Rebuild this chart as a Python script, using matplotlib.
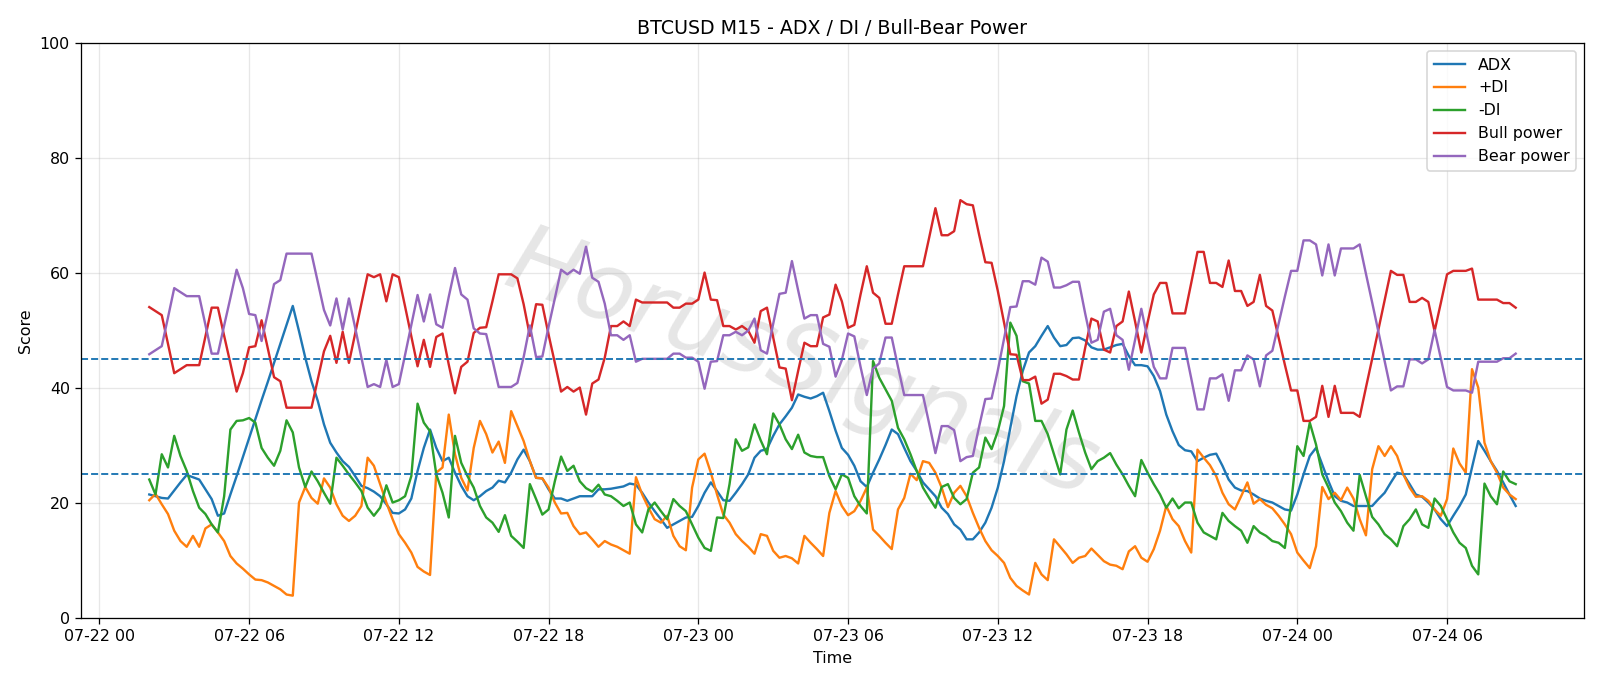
import matplotlib
matplotlib.use("Agg")
import matplotlib.pyplot as plt
import matplotlib.dates as mdates
import pandas as pd

# 15-minute bars, 07-22 02:00 -> 07-24 08:45
times = pd.date_range("2025-07-22 02:00", periods=220, freq="15min")

adx = [
    21.5, 21.2, 20.9, 20.8, 22.2, 23.6, 24.9, 24.5, 24.1, 22.4, 20.7, 17.8, 18.2, 21.5, 24.7, 28.0, 31.3, 34.6, 37.9,
    41.1, 44.4, 47.7, 51.0, 54.3, 49.9, 45.3, 41.2, 37.8, 33.7, 30.5, 28.8, 27.3, 26.3, 24.7, 23.0, 22.6, 22.0,
    21.2, 19.8, 18.3, 18.2, 18.9, 20.8, 25.6, 29.6, 32.8, 29.6, 27.3, 27.9, 25.3, 23.0, 21.2, 20.5, 21.2, 22.1,
    22.7, 23.9, 23.6, 25.3, 27.6, 29.3, 27.3, 24.4, 24.3, 22.4, 20.8, 20.8, 20.4, 20.8, 21.2, 21.2, 21.2, 22.4, 22.4,
    22.5, 22.7, 22.9, 23.4, 23.2, 21.8, 20.1, 18.6, 17.2, 15.7, 16.3, 16.9, 17.5, 17.6, 19.5, 21.8, 23.6, 22.1,
    20.5, 20.4, 21.8, 23.3, 25.0, 27.9, 29.1, 29.4, 31.7, 33.7, 35.1, 36.6, 38.9, 38.5, 38.2, 38.6, 39.2, 36.0, 32.6,
    29.6, 28.4, 26.5, 23.8, 22.8, 25.3, 27.6, 30.1, 32.8, 32.0, 29.6, 27.3, 25.6, 23.6, 22.4, 21.2, 19.2, 18.1,
    16.3, 15.4, 13.7, 13.7, 14.9, 16.6, 19.2, 22.7, 27.3, 33.1, 38.6, 43.0, 46.2, 47.3, 49.1, 50.8, 48.8, 47.3,
    47.5, 48.7, 48.8, 48.3, 47.1, 46.7, 46.7, 47.1, 47.5, 47.7, 45.6, 44.0, 44.0, 43.8, 42.1, 39.5, 35.4, 32.5,
    30.1, 29.2, 29.0, 27.3, 27.9, 28.4, 28.6, 26.5, 24.1, 22.7, 22.2, 22.1, 21.5, 20.8, 20.4, 20.1, 19.5, 18.9, 18.7, 21.5,
    25.0, 28.2, 29.6, 26.7, 23.8, 21.2, 20.4, 20.1, 19.5, 19.5, 19.5, 19.5, 20.7, 21.8, 23.6, 25.3, 25.0, 23.3,
    21.5, 21.1, 20.1, 18.9, 17.2, 16.0, 17.8, 19.5, 21.5, 26.2, 30.8, 29.1, 27.3, 25.6, 23.6, 21.5, 19.5,
]

plus_di = [
    20.5, 21.6, 19.8, 18.1, 15.2, 13.4, 12.4, 14.3, 12.4, 15.6, 16.3, 14.9, 13.4, 10.8, 9.5, 8.6, 7.6, 6.7, 6.6,
    6.2, 5.6, 5.0, 4.1, 3.9, 20.1, 22.8, 20.9, 19.9, 24.3, 22.7, 19.8, 17.8, 16.9, 17.8, 19.5, 27.9, 26.5,
    23.3, 20.1, 17.2, 14.6, 13.1, 11.4, 8.9, 8.1, 7.5, 25.3, 26.2, 35.4, 28.5, 24.4, 22.2, 29.6, 34.3, 32.0,
    28.8, 30.7, 27.0, 36.0, 33.4, 30.8, 27.3, 24.4, 24.3, 22.7, 20.1, 18.2, 18.3, 16.0, 14.6, 14.9, 13.7, 12.4, 13.4,
    12.8, 12.4, 11.8, 11.2, 24.5, 21.5, 19.2, 17.2, 16.6, 17.8, 14.3, 12.5, 11.8, 22.7, 27.6, 28.6, 25.3, 21.5,
    18.0, 16.6, 14.6, 13.4, 12.4, 11.2, 14.6, 14.3, 11.7, 10.5, 10.8, 10.4, 9.5, 14.3, 13.1, 12.0, 10.8, 18.3, 22.1,
    19.5, 17.9, 18.6, 20.4, 22.7, 15.4, 14.3, 13.1, 12.0, 18.9, 20.9, 25.1, 24.0, 27.3, 27.0, 25.3, 22.7, 19.3,
    21.8, 23.0, 21.2, 18.3, 15.7, 13.4, 11.8, 10.8, 9.6, 7.0, 5.6, 4.8, 4.1, 9.6, 7.6, 6.6, 13.7, 12.4,
    11.1, 9.6, 10.5, 10.8, 12.1, 11.0, 9.9, 9.3, 9.1, 8.5, 11.6, 12.5, 10.5, 9.8, 12.0, 15.2, 19.5, 17.2,
    16.0, 13.4, 11.4, 29.3, 27.9, 26.6, 24.7, 21.8, 19.8, 18.9, 21.2, 23.6, 19.9, 20.7, 19.7, 19.1, 17.8, 16.3, 14.6, 11.4,
    10.0, 8.7, 12.5, 22.8, 20.7, 21.8, 20.5, 22.7, 20.8, 17.2, 14.4, 25.9, 29.9, 28.2, 29.9, 28.2, 25.0, 22.7,
    21.1, 21.2, 20.4, 18.9, 17.8, 20.7, 29.5, 26.9, 25.3, 43.3, 40.1, 30.5, 27.3, 25.3, 22.7, 21.5, 20.7,
]

minus_di = [
    24.1, 21.5, 28.5, 26.2, 31.7, 28.2, 25.6, 22.1, 19.2, 18.1, 16.3, 14.9, 21.2, 32.8, 34.3, 34.4, 34.8, 34.0, 29.6,
    27.9, 26.5, 29.1, 34.4, 32.3, 26.2, 22.8, 25.5, 23.8, 21.8, 19.9, 27.9, 26.5, 25.0, 23.6, 22.1, 19.2, 17.8,
    19.2, 23.1, 20.1, 20.5, 21.2, 24.7, 37.3, 34.0, 32.5, 25.0, 21.8, 17.5, 31.7, 27.0, 24.7, 22.7, 19.5, 17.5,
    16.6, 15.0, 17.9, 14.3, 13.3, 12.2, 23.3, 20.7, 18.0, 18.9, 23.8, 28.1, 25.6, 26.5, 23.8, 22.6, 22.0, 23.2, 21.5,
    21.2, 20.4, 19.5, 20.1, 16.3, 14.9, 18.9, 20.1, 18.6, 17.2, 20.7, 19.5, 18.6, 16.3, 14.0, 12.2, 11.7, 17.5,
    17.4, 23.3, 31.1, 29.1, 29.7, 33.7, 30.9, 28.5, 35.6, 33.7, 31.1, 29.4, 31.9, 28.8, 28.2, 28.0, 28.0, 24.7, 22.4,
    25.0, 24.4, 21.2, 19.5, 18.2, 44.7, 41.8, 39.8, 37.8, 33.1, 31.1, 28.5, 25.6, 22.7, 20.9, 19.2, 22.8, 23.3,
    20.9, 19.8, 20.7, 25.3, 26.2, 31.4, 29.4, 32.5, 36.9, 51.4, 49.1, 41.2, 40.8, 34.3, 34.3, 32.0, 28.5, 25.0,
    32.8, 36.1, 32.3, 28.8, 25.9, 27.3, 27.9, 28.7, 26.7, 25.0, 23.0, 21.2, 27.5, 25.3, 23.3, 21.5, 19.2, 20.8,
    19.1, 20.1, 20.1, 16.6, 14.9, 14.3, 13.7, 18.3, 16.9, 16.0, 15.2, 13.1, 16.0, 14.9, 14.3, 13.4, 13.1, 12.2, 19.8, 29.9,
    28.2, 34.0, 30.2, 25.0, 22.7, 20.1, 18.6, 16.6, 15.2, 24.9, 21.2, 17.6, 16.3, 14.6, 13.7, 12.5, 16.0, 17.2,
    18.9, 16.3, 15.7, 20.8, 19.5, 17.2, 14.9, 13.1, 12.2, 9.1, 7.6, 23.4, 21.2, 19.8, 25.5, 23.8, 23.3,
]

bull_power = [
    54.1, 53.4, 52.7, 47.7, 42.6, 43.3, 44.0, 44.0, 44.0, 49.0, 54.0, 54.0, 49.1, 44.3, 39.4, 42.6, 47.1, 47.3, 51.8,
    46.9, 41.9, 41.2, 36.6, 36.6, 36.6, 36.6, 36.6, 41.5, 46.4, 49.1, 44.4, 49.8, 44.4, 49.5, 54.7, 59.8, 59.3,
    59.8, 55.1, 59.8, 59.3, 54.2, 49.0, 43.8, 48.4, 43.7, 48.9, 49.5, 44.1, 39.1, 43.7, 44.6, 49.6, 50.5, 50.6,
    55.1, 59.8, 59.8, 59.8, 59.1, 54.6, 49.1, 54.6, 54.5, 49.3, 44.4, 39.4, 40.2, 39.4, 40.1, 35.4, 40.8, 41.5, 45.3,
    50.8, 50.8, 51.6, 50.8, 55.4, 54.9, 54.9, 54.9, 54.9, 54.9, 54.0, 54.0, 54.7, 54.7, 55.4, 60.1, 55.4, 55.3,
    50.8, 50.8, 50.2, 50.8, 50.0, 47.9, 53.4, 54.0, 48.8, 43.6, 43.4, 37.9, 43.0, 47.9, 47.3, 47.3, 52.3, 52.8, 58.0,
    55.1, 50.5, 51.0, 56.3, 61.2, 56.6, 55.7, 51.2, 51.2, 56.3, 61.2, 61.2, 61.2, 61.2, 66.2, 71.3, 66.6, 66.6,
    67.3, 72.7, 72.0, 71.8, 66.7, 61.9, 61.8, 56.9, 51.4, 45.9, 45.8, 41.4, 41.4, 42.0, 37.3, 38.0, 42.5, 42.5,
    42.1, 41.5, 41.5, 47.0, 52.1, 51.6, 46.7, 46.2, 50.8, 51.6, 56.8, 51.6, 46.2, 51.4, 56.3, 58.3, 58.3, 53.0,
    53.0, 53.0, 58.3, 63.7, 63.7, 58.3, 58.3, 57.6, 62.2, 56.9, 56.9, 54.3, 55.0, 59.7, 54.3, 53.5, 48.8, 44.1, 39.6, 39.6,
    34.3, 34.3, 35.0, 40.4, 35.0, 40.4, 35.7, 35.7, 35.7, 35.0, 40.1, 45.1, 50.2, 55.3, 60.4, 59.7, 59.7, 55.0,
    55.0, 55.7, 55.0, 49.9, 54.8, 59.8, 60.4, 60.4, 60.4, 60.8, 55.4, 55.4, 55.4, 55.4, 54.8, 54.8, 54.0,
]

bear_power = [
    45.9, 46.6, 47.3, 52.3, 57.4, 56.7, 56.0, 56.0, 56.0, 51.0, 46.0, 46.0, 50.9, 55.7, 60.6, 57.4, 52.9, 52.7, 48.2,
    53.1, 58.1, 58.8, 63.4, 63.4, 63.4, 63.4, 63.4, 58.5, 53.6, 50.9, 55.6, 50.2, 55.6, 50.5, 45.3, 40.2, 40.7,
    40.2, 44.9, 40.2, 40.7, 45.8, 51.0, 56.2, 51.6, 56.3, 51.1, 50.5, 55.9, 60.9, 56.3, 55.4, 50.4, 49.5, 49.4,
    44.9, 40.2, 40.2, 40.2, 40.9, 45.4, 50.9, 45.4, 45.5, 50.7, 55.6, 60.6, 59.8, 60.6, 59.9, 64.6, 59.2, 58.5, 54.7,
    49.2, 49.2, 48.4, 49.2, 44.6, 45.1, 45.1, 45.1, 45.1, 45.1, 46.0, 46.0, 45.3, 45.3, 44.6, 39.9, 44.6, 44.7,
    49.2, 49.2, 49.8, 49.2, 50.0, 52.1, 46.6, 46.0, 51.2, 56.4, 56.6, 62.1, 57.0, 52.1, 52.7, 52.7, 47.7, 47.2, 42.0,
    44.9, 49.5, 49.0, 43.7, 38.8, 43.4, 44.3, 48.8, 48.8, 43.7, 38.8, 38.8, 38.8, 38.8, 33.8, 28.7, 33.4, 33.4,
    32.7, 27.3, 28.0, 28.2, 33.3, 38.1, 38.2, 43.1, 48.6, 54.1, 54.2, 58.6, 58.6, 58.0, 62.7, 62.0, 57.5, 57.5,
    57.9, 58.5, 58.5, 53.0, 47.9, 48.4, 53.3, 53.8, 49.2, 48.4, 43.2, 48.4, 53.8, 48.6, 43.7, 41.7, 41.7, 47.0,
    47.0, 47.0, 41.7, 36.3, 36.3, 41.7, 41.7, 42.4, 37.8, 43.1, 43.1, 45.7, 45.0, 40.3, 45.7, 46.5, 51.2, 55.9, 60.4, 60.4,
    65.7, 65.7, 65.0, 59.6, 65.0, 59.6, 64.3, 64.3, 64.3, 65.0, 59.9, 54.9, 49.8, 44.7, 39.6, 40.3, 40.3, 45.0,
    45.0, 44.3, 45.0, 50.1, 45.2, 40.2, 39.6, 39.6, 39.6, 39.2, 44.6, 44.6, 44.6, 44.6, 45.2, 45.2, 46.0,
]

levels = [25, 45]

fig, ax = plt.subplots(figsize=(14, 6.0025), dpi=1600 / 14)
fig.subplots_adjust(left=0.0506, right=0.99, top=0.937, bottom=0.099)

ax.plot(times, adx, label="ADX", lw=1.5)
ax.plot(times, plus_di, label="+DI", lw=1.5)
ax.plot(times, minus_di, label="-DI", lw=1.5)
ax.plot(times, bull_power, label="Bull power", lw=1.5)
ax.plot(times, bear_power, label="Bear power", lw=1.5)
for lv in levels:
    ax.axhline(lv, color="tab:blue", linestyle="--", lw=1.2)

# watermark
ax.text(0.48, 0.44, "HorusSignals", transform=ax.transAxes, fontsize=60,
        rotation=-20, color="0.5", alpha=0.2, ha="center", va="center",
        style="italic", fontweight="light", zorder=0)

ax.set_ylim(0, 100)
ax.xaxis.set_major_locator(mdates.HourLocator(byhour=[0, 6, 12, 18]))
ax.xaxis.set_major_formatter(mdates.DateFormatter("%m-%d %H"))
ax.grid(True, alpha=0.3)
ax.set_title("BTCUSD M15 - ADX / DI / Bull-Bear Power")
ax.set_xlabel("Time")
ax.set_ylabel("Score")
ax.legend(loc="upper right")

plt.savefig("out.png")
